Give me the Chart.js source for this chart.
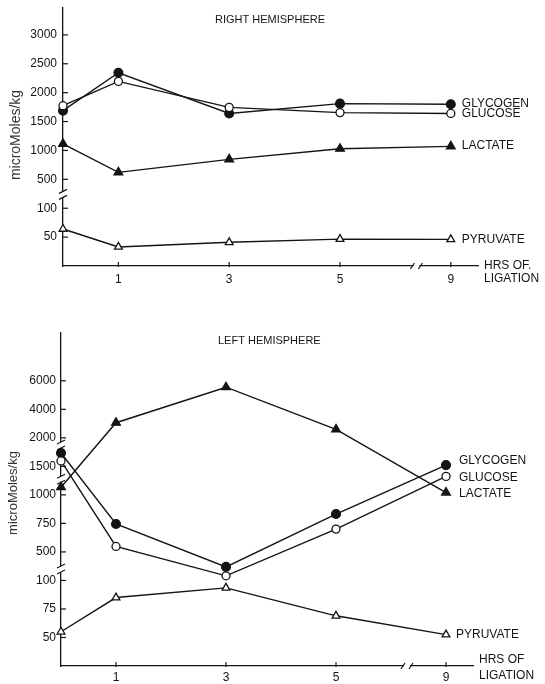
<!DOCTYPE html>
<html>
<head>
<meta charset="utf-8">
<script src="https://cdn.jsdelivr.net/npm/chart.js@4.4.1/dist/chart.umd.min.js"></script>
<style>
html,body{margin:0;padding:0;background:#fff;}
#wrap{position:relative;width:545px;height:684px;overflow:hidden;background:#fff;}
#top{position:absolute;left:0;top:-4px;}
#bottom{position:absolute;left:0;top:322px;}
</style>
</head>
<body>
<div id="wrap">
<canvas id="top" width="545" height="304"></canvas>
<canvas id="bottom" width="545" height="362"></canvas>
</div>
<script>
// ---------- DATA ----------
const hours = [0, 1, 3, 5, 9];
const hourTicks = [1, 3, 5, 9];
const hourBreakAt = 5;          // x axis is broken after 5 h (compressed)

// Right hemisphere (micromoles/kg)
const rightTicks    = [50, 100, 500, 1000, 1500, 2000, 2500, 3000];
const rightGlycogen = [1690, 2345, 1640, 1810, 1800];
const rightGlucose  = [1775, 2195, 1745, 1655, 1640];
const rightLactate  = [1115, 620, 845, 1030, 1070];
const rightPyruvate = [64, 33, 41, 46.5, 46];

// Left hemisphere (micromoles/kg)
const leftTicks    = [50, 75, 100, 500, 750, 1000, 1500, 2000, 4000, 6000];
const leftGlycogen = [1735, 745, 290, 832, 1522];
const leftGlucose  = [1595, 548, 165, 700, 1324];
const leftLactate  = [1135, 3060, 5550, 2590, 1040];
const leftPyruvate = [55, 85, 93.5, 69, 52.5];

const seriesNames = ['GLYCOGEN', 'GLUCOSE', 'LACTATE', 'PYRUVATE'];

// ---------- HELPERS ----------
const BLACK = '#141414';
const FONT = '"Liberation Sans", Arial, Helvetica, sans-serif';
const W = 545;

function hourPos(h) { return h <= hourBreakAt ? h : hourBreakAt + (h - hourBreakAt) * 0.5; }

// broken (piecewise) value axis: tick i sits at slot i+1
function toSlot(v, ticks) {
  let i = 0;
  while (i < ticks.length - 2 && v > ticks[i + 1]) i++;
  return (i + 1) + (v - ticks[i]) / (ticks[i + 1] - ticks[i]);
}

const decor = {
  id: 'decor',
  beforeDatasetsDraw(chart) {
    const o = chart.options.plugins.decor;
    const ctx = chart.ctx, a = chart.chartArea, xs = chart.scales.x, ys = chart.scales.y;
    const line = (x1, y1, x2, y2) => { ctx.beginPath(); ctx.moveTo(x1, y1); ctx.lineTo(x2, y2); ctx.stroke(); };
    ctx.save();
    ctx.strokeStyle = BLACK; ctx.lineWidth = 1.2;
    ys.ticks.forEach(t => { const y = ys.getPixelForValue(t.value); line(a.left, y, a.left + 5, y); });
    xs.ticks.forEach(t => { const x = xs.getPixelForValue(t.value); line(x, a.bottom + 1, x, a.bottom - 4); });
    // y axis breaks
    o.yBreaks.forEach(s => {
      const y = ys.getPixelForValue(s);
      ctx.fillStyle = '#fff';
      ctx.fillRect(a.left - 2, y - 3, 4, 6);
      line(a.left - 4, y - 1, a.left + 4, y - 5);
      line(a.left - 4, y + 5, a.left + 4, y + 1);
    });
    // x axis break
    const bx = xs.getPixelForValue(o.xBreak);
    ctx.fillStyle = '#fff';
    ctx.fillRect(bx - 3, a.bottom - 2, 6, 4);
    line(bx - 6, a.bottom + 3, bx - 2, a.bottom - 3);
    line(bx + 2, a.bottom + 3, bx + 6, a.bottom - 3);
    ctx.restore();
  },
  afterDraw(chart) {
    const o = chart.options.plugins.decor;
    const ctx = chart.ctx, xs = chart.scales.x, ys = chart.scales.y;
    ctx.save();
    ctx.fillStyle = BLACK;
    ctx.textBaseline = 'middle';
    ctx.textAlign = 'left';
    ctx.font = '11px ' + FONT;
    ctx.fillText(o.title, o.titleX, o.titleY);
    ctx.font = '12px ' + FONT;
    // series labels at right end
    chart.data.datasets.forEach((d, i) => {
      const last = d.data[d.data.length - 1];
      const x = xs.getPixelForValue(last.x) + o.labelDx[i];
      const y = ys.getPixelForValue(last.y) + o.labelDy[i];
      ctx.fillText(d.label, x, y);
    });
    ctx.fillText(o.xTitle[0], o.xTitleX, o.xTitleY[0]);
    ctx.fillText(o.xTitle[1], o.xTitleX, o.xTitleY[1]);
    // y title
    ctx.translate(o.yTitleX, o.yTitleY);
    ctx.rotate(-Math.PI / 2);
    ctx.textAlign = 'center';
    ctx.fillStyle = '#333';
    ctx.font = o.yTitleSize + 'px ' + FONT;
    ctx.fillText('microMoles/kg', 0, 0);
    ctx.restore();
  }
};

function buildChart(id, p) {
  const toPts = arr => hours.map((h, i) => ({ x: hourPos(h), y: toSlot(arr[i], p.yTicks) }));
  const ds = (label, arr, style, fillCol, radius, order) => ({
    label, data: toPts(arr),
    borderColor: BLACK, borderWidth: 1.4, tension: 0, fill: false, clip: false,
    pointStyle: style, pointRadius: radius, pointHoverRadius: radius,
    pointBackgroundColor: fillCol, pointBorderColor: BLACK, pointBorderWidth: 1.3,
    order
  });
  const canvas = document.getElementById(id);
  const H = canvas.height;
  return new Chart(canvas, {
    type: 'line',
    data: {
      datasets: [
        ds(seriesNames[0], p.glycogen, 'circle', BLACK, 4.4, 2),
        ds(seriesNames[1], p.glucose, 'circle', '#fff', 4, 1),
        ds(seriesNames[2], p.lactate, 'triangle', BLACK, 5, 3),
        ds(seriesNames[3], p.pyruvate, 'triangle', '#fff', 4.5, 0)
      ]
    },
    options: {
      responsive: false, animation: false, devicePixelRatio: 1,
      layout: { padding: { top: p.area.top, right: W - p.area.right, left: 0, bottom: 0 } },
      plugins: {
        legend: { display: false }, tooltip: { enabled: false },
        decor: p.decor
      },
      scales: {
        x: {
          type: 'linear', min: 0, max: 7.5,
          afterFit: s => { s.height = H - p.area.bottom; },
          afterBuildTicks: s => { s.ticks = hourTicks.map(h => ({ value: hourPos(h) })); },
          ticks: { callback: (v, i) => String(hourTicks[i]), font: { family: FONT, size: 12 }, color: BLACK, padding: p.xPad, maxRotation: 0, autoSkip: false },
          grid: { display: false, drawTicks: false },
          border: { display: true, color: BLACK, width: 1.3 }
        },
        y: {
          type: 'linear', min: 0, max: (p.area.bottom - p.area.top) / p.slotPx,
          afterFit: s => { s.width = p.area.left; },
          afterBuildTicks: s => { s.ticks = p.yTicks.map((v, i) => ({ value: i + 1 })); },
          ticks: { callback: (v, i) => String(p.yTicks[i]), font: { family: FONT, size: 12, lineHeight: 1 }, color: BLACK, padding: p.yPad, autoSkip: false },
          grid: { display: false, drawTicks: false },
          border: { display: true, color: BLACK, width: 1.3 }
        }
      }
    },
    plugins: [decor]
  });
}

// top canvas is placed 4px above the page top, so its coordinates are page y + 4
buildChart('top', {
  yTicks: rightTicks, glycogen: rightGlycogen, glucose: rightGlucose, lactate: rightLactate, pyruvate: rightPyruvate,
  area: { left: 63, right: 63 + 7.5 * 55.4, top: 11, bottom: 270 }, slotPx: 29, xPad: 6, yPad: 6,
  decor: {
    yBreaks: [2.48], xBreak: 6.38,
    title: 'RIGHT HEMISPHERE', titleX: 215, titleY: 24,
    labelDx: [11, 11, 11, 11], labelDy: [-1, 0, -1, 0],
    xTitle: ['HRS OF.', 'LIGATION'], xTitleX: 484, xTitleY: [270, 282.5],
    yTitleX: 16, yTitleY: 139, yTitleSize: 14
  }
});

buildChart('bottom', {
  yTicks: leftTicks, glycogen: leftGlycogen, glucose: leftGlucose, lactate: leftLactate, pyruvate: leftPyruvate,
  area: { left: 61, right: 61 + 7.5 * 55, top: 11, bottom: 344 }, slotPx: 28.52, xPad: 4, yPad: 5,
  decor: {
    yBreaks: [7.75, 6.55, 3.4], xBreak: 6.29,
    title: 'LEFT HEMISPHERE', titleX: 218, titleY: 19,
    labelDx: [13, 13, 13, 10], labelDy: [-4, 1, 1, 0],
    xTitle: ['HRS OF', 'LIGATION'], xTitleX: 479, xTitleY: [338, 354],
    yTitleX: 13.5, yTitleY: 171, yTitleSize: 13
  }
});
</script>
</body>
</html>
